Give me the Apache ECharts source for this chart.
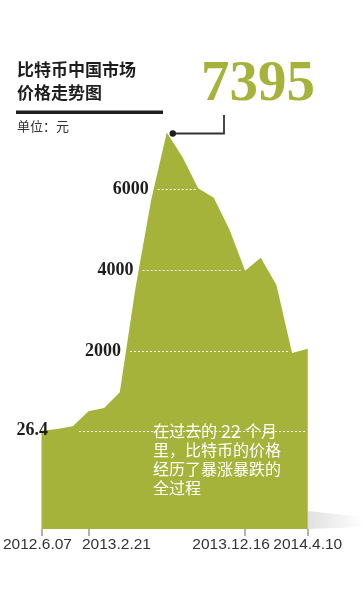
<!DOCTYPE html>
<html><head><meta charset="utf-8">
<script src="https://cdn.jsdelivr.net/npm/echarts@6/dist/echarts.min.js"></script>
<style>html,body{margin:0;padding:0;background:#fff}#c{width:364px;height:595px}</style>
</head><body><div id="c"></div>
<script>
// ---- data ----
const categories = ['2012.6.07', '', '', '2013.2.21', '', '', '', '', '', '', '', '', '', '2013.12.16', '', '', '', '2014.4.10'];
const prices = [26.4, 70, 140, 510, 590, 980, 3550, 5720, 7395, 6790, 6020, 5780, 5000, 3980, 4300, 3630, 1950, 2050];
const levels = [26.4, 2000, 4000, 6000];
const titleLines = ['比特币中国市场', '价格走势图'];
const unitText = '单位：元';
const noteLines = ['在过去的{d|22}个月', '里，比特币的价格', '经历了暴涨暴跌的', '全过程'];

// ---- styles ----
const OLIVE = '#a6b33a';
const SERIF = "'Liberation Serif','Times New Roman',serif";
const SANS = "'Liberation Sans',Arial,sans-serif";
const CJK = "'Noto Sans CJK SC','Noto Sans',sans-serif";
const labelShift = { 0: [0, 8, 0, 0], 3: [0, 0, 0, 56], 13: [0, 28, 0, 0], 17: [0, 0, 0, 0] };
const levelLayout = { '26.4': { start: 2.4, gap: 31 } };

function levelSpan(level) {
  let start = null, end = prices.length - 1;
  for (let i = 0; i < prices.length; i++) {
    if (start === null) {
      if (prices[i] >= level) {
        start = i === 0 ? 0 : (i - 1) + (level - prices[i - 1]) / (prices[i] - prices[i - 1]);
      }
    } else if (prices[i] < level) {
      end = (i - 1) + (prices[i - 1] - level) / (prices[i - 1] - prices[i]);
      break;
    }
  }
  return [start + 0.25, end - 0.15];
}

const rich = {};
Object.keys(labelShift).forEach(k => { rich['l' + k] = { padding: labelShift[k] }; });

const markData = levels.map(l => {
  const span = levelSpan(l);
  const cfg = levelLayout[String(l)];
  const s = cfg ? cfg.start : span[0];
  const first = { coord: [s, l], name: String(l) };
  if (cfg) first.label = { distance: cfg.gap };
  return [first, { coord: [span[1], l] }];
});

const chart = echarts.init(document.getElementById('c'), null, { renderer: 'canvas' });
chart.setOption({
  backgroundColor: '#fff',
  animation: false,
  grid: { left: 40, right: 56.25, top: 108, bottom: 66 },
  xAxis: [
    {
      type: 'category', data: categories, boundaryGap: false, z: 10,
      axisLine: { show: true, onZero: false, lineStyle: { color: 'rgba(0,0,0,0)', width: 0 } },
      axisTick: { show: true, inside: false, interval: (i, v) => categories[i] !== '', length: 7, lineStyle: { color: '#999999', width: 1.5 } },
      axisLabel: {
        show: true, interval: (i, v) => categories[i] !== '', margin: 8,
        showMinLabel: true, showMaxLabel: true, hideOverlap: false,
        fontFamily: SANS, fontSize: 15.5, color: '#333',
        formatter: (v, i) => v ? '{l' + i + '|' + v + '}' : '',
        rich: rich
      },
      splitLine: { show: false }
    },
    { type: 'value', min: 0, max: categories.length - 1, show: false, axisLine: { onZero: false } }
  ],
  yAxis: { type: 'value', min: -2400, max: 8000, show: false },
  series: [
    {
      type: 'line', xAxisIndex: 0, data: prices, symbol: 'none', silent: true,
      lineStyle: { width: 0 },
      areaStyle: { color: OLIVE, opacity: 1, origin: 'start' }
    },
    {
      type: 'line', xAxisIndex: 1, data: [], silent: true,
      markLine: {
        symbol: 'none', silent: true, animation: false,
        lineStyle: { color: 'rgba(255,255,255,0.95)', type: [2, 2], width: 1 },
        label: { show: true, position: 'start', distance: 9, formatter: '{b}', fontFamily: SERIF, fontWeight: 'bold', fontSize: 18, color: '#1e1e1e' },
        emphasis: { disabled: true },
        data: markData
      }
    }
  ]
});

// callout from the peak
const peakVal = Math.max.apply(null, prices);
const peakIdx = prices.indexOf(peakVal);
const p = chart.convertToPixel({ xAxisIndex: 1, yAxisIndex: 0 }, [peakIdx, peakVal]);
const dot = [p[0] + 6, p[1] + 1];
const calloutX = 224, calloutTop = 115;

chart.setOption({
  graphic: [
    { type: 'text', z: 100, left: 17, top: 58.5, style: { text: titleLines.join('\n'), font: "bold 17px " + CJK, lineHeight: 23, fill: '#1e1e1e' } },
    { type: 'rect', z: 100, shape: { x: 16, y: 110.5, width: 147, height: 3.5 }, style: { fill: '#1e1e1e' } },
    { type: 'text', z: 100, left: 17, top: 120, style: { text: unitText, font: "13px " + CJK, fill: '#333' } },
    { type: 'text', z: 100, x: 201, y: 85, style: { text: String(peakVal), font: "bold 57px " + SERIF, fill: OLIVE, verticalAlign: 'middle', align: 'left' } },
    { type: 'polyline', z: 100, shape: { points: [[calloutX, calloutTop], [calloutX, dot[1]], dot] }, style: { stroke: '#333', lineWidth: 1.8, fill: null } },
    { type: 'circle', z: 100, shape: { cx: dot[0], cy: dot[1], r: 3.2 }, style: { fill: '#1e1e1e' } },
    { type: 'text', z: 100, x: 153, y: 421.5, style: { text: noteLines.join('\n'), fontFamily: CJK, fontSize: 16, lineHeight: 19, fill: '#fff', rich: { d: { padding: [0, 4, 0, 4], fontSize: 18, lineHeight: 19, fill: '#fff', fontFamily: CJK } } } },
    { type: 'polygon', z: 100, shape: { points: [[308, 511], [364, 517], [364, 527], [308, 529]] },
      style: { fill: new echarts.graphic.LinearGradient(0, 0, 1, 0, [{ offset: 0, color: 'rgba(0,0,0,0.12)' }, { offset: 1, color: 'rgba(0,0,0,0)' }]) } }
  ]
});
</script></body></html>
